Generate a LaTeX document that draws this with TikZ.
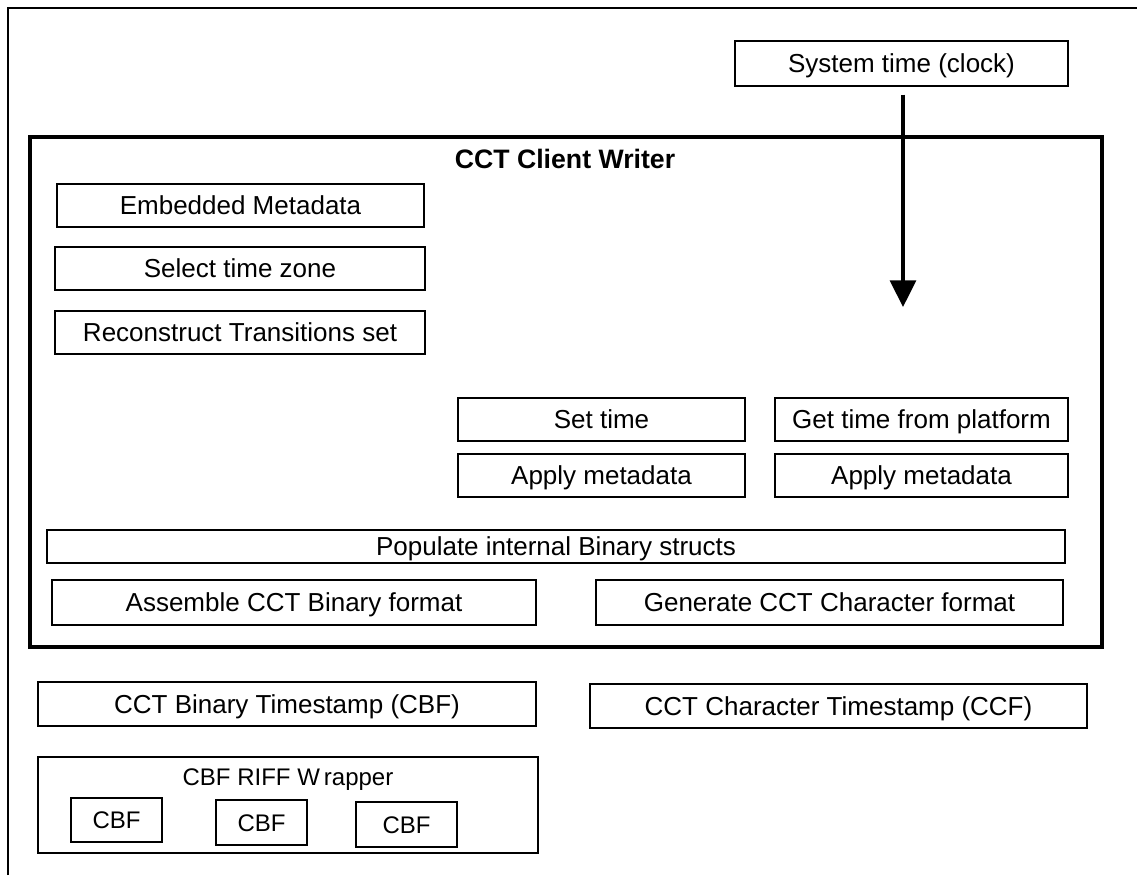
\documentclass[tikz,border=0pt]{standalone}
\usepackage{fontspec}
\setmainfont{Liberation Sans}
\usetikzlibrary{arrows.meta}
\newcommand{\mybox}[6]{\node[box, minimum width={(#4-#2)*0.75pt}, minimum height={(#5-#3)*0.75pt}] (#1) at ({(#2+#4)/2},{(#3+#5)/2}) {#6};}
\tikzset{
  box/.style={draw, line width=1.1pt, inner sep=0pt, text height=15.5pt, text depth=1.5pt, font=\fontsize{19.5}{23}\selectfont},
  smallbox/.style={box, text height=14.5pt, text depth=1.5pt, font=\fontsize{18}{22}\selectfont},
  frame/.style={line width=1.5pt},
  flow/.style={line width=2.3pt, -{Triangle[width=19.5pt,length=20pt]}}
}
\begin{document}
\begin{tikzpicture}[x=0.75pt,y=-0.75pt]
\useasboundingbox (0,0) rectangle (1137,875);
% outer frame (top and left only)
\draw[frame] (8,875) -- (8,8) -- (1137,8);
% system time
\mybox{sys}{735}{41}{1068}{86}{System time (clock)}
% writer container
\node[draw, line width=2.4pt, minimum width={1072*0.75pt}, minimum height={510*0.75pt}, inner sep=0pt] (writer) at (566,392) {};
\node[font=\fontsize{20}{24}\selectfont\bfseries, text height=15.5pt, text depth=1.5pt, inner sep=0pt] (title) at (565,159) {CCT Client Writer};
\mybox{emb}{57}{184}{424}{227}{Embedded Metadata}
\mybox{tz}{55}{247}{425}{290}{Select time zone}
\mybox{rec}{55}{311}{425}{354}{Reconstruct Transitions set}
\mybox{set}{458}{398}{745}{441}{Set time}
\mybox{get}{775}{398}{1068}{441}{Get time from platform}
\mybox{appl}{458}{454}{745}{497}{Apply metadata}
\mybox{appr}{775}{454}{1068}{497}{Apply metadata}
\mybox{pop}{47}{530}{1065}{563}{Populate internal Binary structs}
\mybox{asm}{52}{580}{536}{625}{Assemble CCT Binary format}
\mybox{gen}{596}{580}{1063}{625}{Generate CCT Character format}
% outputs
\mybox{cbf}{38}{682}{536}{726}{CCT Binary Timestamp (CBF)}
\mybox{ccf}{590}{684}{1087}{728}{CCT Character Timestamp (CCF)}
% RIFF wrapper
\node[box, minimum width={500*0.75pt}, minimum height={96*0.75pt}] (riff) at (288,805) {};
\node[font=\fontsize{18}{22}\selectfont, text height=14.5pt, text depth=1.5pt, inner sep=0pt] (rifftitle) at (288,777) {CBF RIFF W\,rapper};
\node[smallbox, minimum width={91*0.75pt}, minimum height={44*0.75pt}] (c1) at (116.5,820) {CBF};
\node[smallbox, minimum width={91*0.75pt}, minimum height={45*0.75pt}] (c2) at (261.5,822.5) {CBF};
\node[smallbox, minimum width={101*0.75pt}, minimum height={45*0.75pt}] (c3) at (406.5,824.5) {CBF};
% arrow
\coordinate (tip) at (903,307);
\draw[flow, shorten <=6pt] (sys.south -| tip) -- (tip);
\end{tikzpicture}
\end{document}
